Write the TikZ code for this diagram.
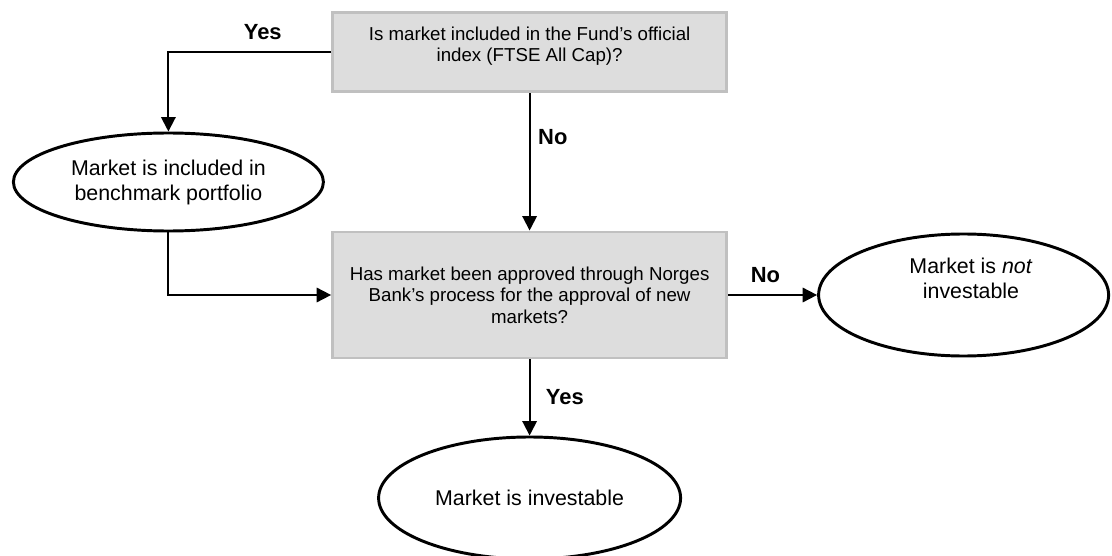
\documentclass[tikz,border=0pt]{standalone}
\usepackage{fontspec}
\setmainfont{Liberation Sans}
\usetikzlibrary{arrows.meta,shapes.geometric}
\definecolor{qfill}{HTML}{DDDDDD}
\definecolor{qline}{HTML}{C0C0C0}
\tikzset{
  question/.style={rectangle, draw=qline, fill=qfill, line width=2.1pt, minimum width=9.85cm, inner sep=0pt},
  qtext/.style={align=center, font=\fontsize{13.3pt}{15.4pt}\selectfont},
  outcome/.style={ellipse, draw, line width=2.1pt, inner sep=0pt},
  otext/.style={align=center, font=\fontsize{15.2pt}{17.8pt}\selectfont},
  answer/.style={font=\fontsize{15.6pt}{18pt}\selectfont\bfseries},
}
\begin{document}
\begin{tikzpicture}[>={Triangle[length=0.36cm,width=0.36cm]}, line width=1.3pt]
\useasboundingbox (0,0) rectangle (27.8,13.875);

\node[question, minimum height=1.98cm] (qindex) at (13.24,12.575) {};
\node[qtext] (qindex-text) at (13.24,12.725) {Is market included in the Fund’s official\\index (FTSE All Cap)?};
\node[question, minimum height=3.15cm, qtext] (qapproved) at (13.24,6.5) {Has market been approved through Norges\\Bank’s process for the approval of new\\markets?};
\node[outcome, minimum width=7.75cm, minimum height=2.45cm, otext] (included) at (4.21,9.325) {Market is included in\\benchmark portfolio};
\node[outcome, minimum width=7.25cm, minimum height=3.05cm] (notinv) at (24.09,6.5) {};
\node[otext] (notinv-text) at (24.275,6.925) {Market is \textit{not}\\investable};
\node[outcome, minimum width=7.55cm, minimum height=3.05cm, otext] (investable) at (13.24,1.425) {Market is investable};

\draw[->] (qindex.west) -| node[answer, pos=0.21, yshift=0.5cm] {Yes} (included.north);
\path[->] (qindex) edge node[answer, pos=0.32, xshift=0.58cm] {No} (qapproved);
\draw[->] (included.south) |- (qapproved.west);
\path[->] (qapproved) edge node[answer, pos=0.42, yshift=0.5cm] {No} (notinv);
\path[->] (qapproved) edge node[answer, pos=0.5, xshift=0.88cm] {Yes} (investable);
\end{tikzpicture}
\end{document}
